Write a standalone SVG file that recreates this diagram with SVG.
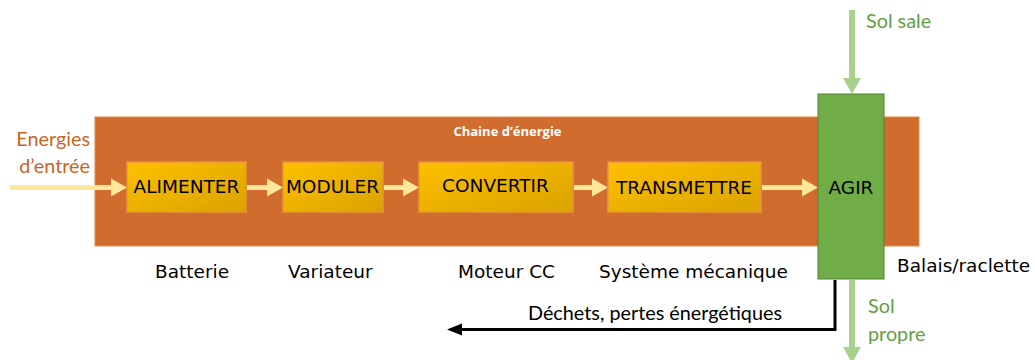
<svg xmlns="http://www.w3.org/2000/svg" width="1035" height="360" viewBox="0 0 1035 360">
<defs>
<linearGradient id="gold" x1="0" y1="0" x2="1" y2="1">
<stop offset="0" stop-color="#FFC000"/>
<stop offset="1" stop-color="#D9A300"/>
</linearGradient>
<style>
.box{fill:url(#gold);stroke:#E8953A;stroke-width:1.5}
.bt{font-family:"DejaVu Sans",sans-serif;font-size:18.5px;fill:#000;text-anchor:middle}
.lbl{font-family:"DejaVu Sans",sans-serif;font-size:18.5px;fill:#000}
.lato{font-family:Lato,"Liberation Sans",sans-serif}
.yel{stroke:#FFE699;stroke-width:5;fill:none}
.yelh{fill:#FFE699}
.grn{stroke:#A9D18E;stroke-width:6;fill:none}
.grnh{fill:#A9D18E}
</style>
</defs>
<rect id="chaine" x="95" y="117" width="824" height="129" fill="#D06C2E" stroke="#E8884A" stroke-width="1"/>
<text x="507.5" y="136" font-family="'Open Sans',sans-serif" font-size="13" font-weight="bold" fill="#FFFFFF" text-anchor="middle">Chaine d’énergie</text>
<g id="connectors">
<path class="yel" d="M10 187.5H112"/><polygon class="yelh" points="111,178.5 127,187.5 111,196.5"/>
<path class="yel" d="M247 187.5H268"/><polygon class="yelh" points="267,178.5 283,187.5 267,196.5"/>
<path class="yel" d="M384 187.5H404"/><polygon class="yelh" points="403,178.5 419,187.5 403,196.5"/>
<path class="yel" d="M574 187.5H593"/><polygon class="yelh" points="592,178.5 608,187.5 592,196.5"/>
<path class="yel" d="M762 187.5H803"/><polygon class="yelh" points="802,178.5 818,187.5 802,196.5"/>
<path class="grn" d="M852 10V79"/><polygon class="grnh" points="843,78 861,78 852,94"/>
<path class="grn" d="M852 280V348"/><polygon class="grnh" points="843,347 861,347 852,363"/>
<path d="M835 280V329.5H460" fill="none" stroke="#000" stroke-width="3"/>
<polygon points="462,323.5 462,335.5 447,329.5" fill="#000"/>
</g>
<g id="alimenter"><rect class="box" x="127" y="162" width="119" height="50"/><text class="bt" x="186.5" y="193">ALIMENTER</text></g>
<g id="moduler"><rect class="box" x="283" y="162" width="100" height="50"/><text class="bt" x="332.5" y="193">MODULER</text></g>
<g id="convertir"><rect class="box" x="419" y="162" width="154" height="50"/><text class="bt" x="495.5" y="192">CONVERTIR</text></g>
<g id="transmettre"><rect class="box" x="608" y="162" width="153" height="50"/><text class="bt" x="684" y="194">TRANSMETTRE</text></g>
<g id="agir"><rect x="818" y="94" width="66" height="185" fill="#70AD47" stroke="#548235" stroke-width="1"/><text class="bt" x="851" y="194">AGIR</text></g>
<g id="labels">
<text class="lbl" x="155" y="278">Batterie</text>
<text class="lbl" x="288" y="278">Variateur</text>
<text class="lbl" x="458" y="278">Moteur CC</text>
<text class="lbl" x="599" y="278">Système mécanique</text>
<text class="lbl" x="897" y="272">Balais/raclette</text>
<text class="lato" x="782" y="320" font-size="19.8" fill="#000" text-anchor="end">Déchets, pertes énergétiques</text>
<text class="lato" x="90" y="146" font-size="19.8" fill="#C9651F" text-anchor="end">Energies</text>
<text class="lato" x="90" y="173" font-size="19.8" fill="#C9651F" text-anchor="end">d’entrée</text>
<text class="lato" x="866" y="28" font-size="19.8" fill="#62A043">Sol sale</text>
<text class="lato" x="868" y="313" font-size="19.8" fill="#62A043">Sol</text>
<text class="lato" x="868" y="341" font-size="19.8" fill="#62A043">propre</text>
</g>
</svg>
